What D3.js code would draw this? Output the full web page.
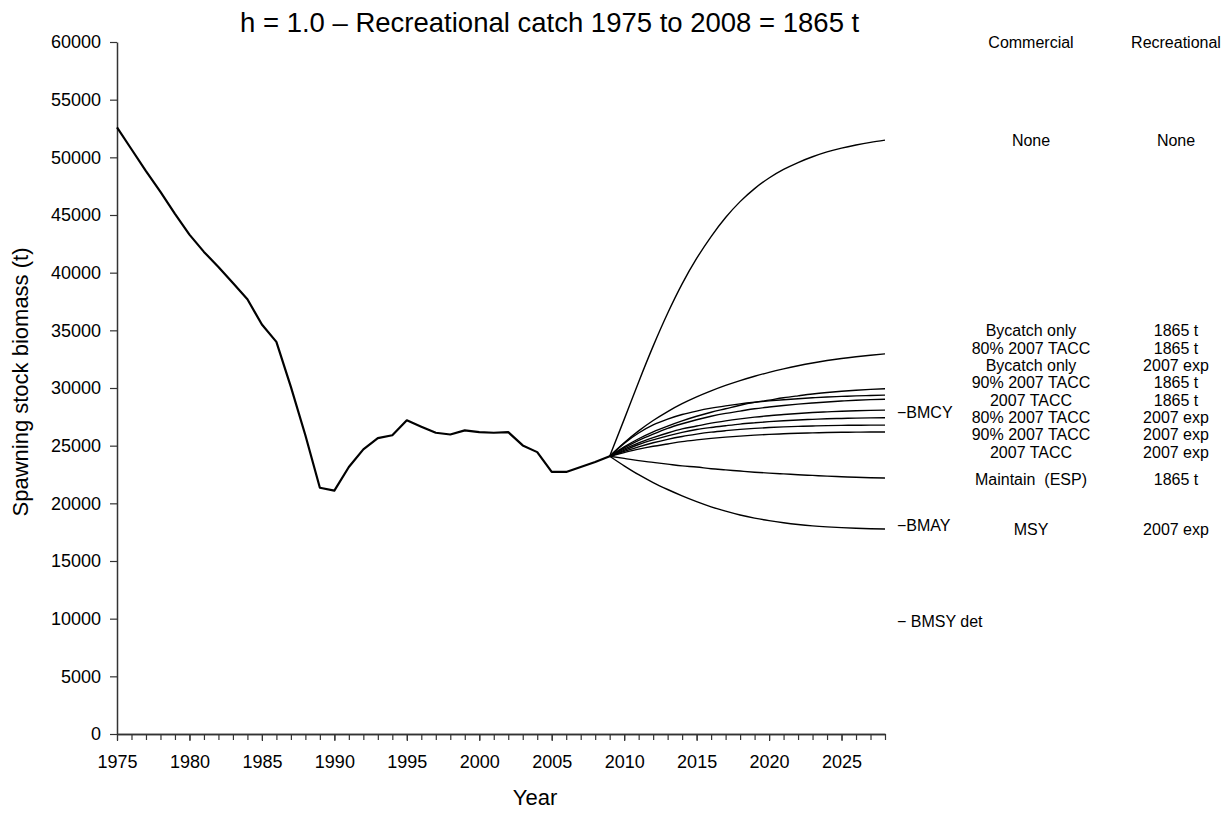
<!DOCTYPE html>
<html>
<head>
<meta charset="utf-8">
<script src="https://cdn.jsdelivr.net/npm/d3@7/dist/d3.min.js"></script>
<style>
  body { margin: 0; background: #fff; }
  svg { display: block; font-family: "Liberation Sans", Arial, sans-serif; }
</style>
</head>
<body>
<svg id="chart" width="1229" height="814"></svg>
<script>
// --- dati: biomassa storica 1975-2009 ---
const histYears = d3.range(1975, 2010);
const histSSB = [
  52600, 50700, 48800, 47000, 45100, 43300, 41800, 40500, 39100, 37700,
  35500, 34000, 30100, 25900, 21350, 21100, 23150, 24680, 25650, 25900,
  27200, 26650, 26120, 25970, 26330, 26170, 26120, 26170, 25020, 24440,
  22720, 22720, 23150, 23580, 24080
];

// --- proiezioni 2009-2028 ---
const projYears = d3.range(2009, 2029);
const projNone   = [24080, 27280, 30530, 33630, 36480, 39030, 41230, 43130, 44780, 46160, 47290, 48210, 48950, 49550, 50050, 50470, 50800, 51070, 51300, 51490];
const projBy1865 = [24080, 25250, 26280, 27180, 27960, 28640, 29230, 29750, 30220, 30640, 31020, 31360, 31660, 31930, 32170, 32380, 32560, 32710, 32840, 32960];
const proj80_1865 = [24080, 24900, 25600, 26200, 26700, 27150, 27550, 27900, 28200, 28500, 28750, 28950, 29150, 29320, 29480, 29610, 29720, 29810, 29880, 29930];
const projByExp  = [24080, 25200, 26100, 26800, 27300, 27700, 28000, 28250, 28450, 28620, 28760, 28880, 28980, 29070, 29150, 29220, 29270, 29320, 29350, 29380];
const proj90_1865 = [24080, 24800, 25450, 26000, 26500, 26900, 27250, 27550, 27800, 28000, 28200, 28350, 28480, 28600, 28700, 28790, 28870, 28940, 28990, 29030];
const projT_1865 = [24080, 24700, 25250, 25700, 26100, 26450, 26700, 26950, 27150, 27320, 27470, 27600, 27700, 27790, 27870, 27930, 27990, 28030, 28060, 28080];
const proj80_exp = [24080, 24600, 25100, 25500, 25850, 26150, 26400, 26580, 26730, 26870, 26980, 27080, 27160, 27230, 27280, 27330, 27360, 27390, 27410, 27420];
const proj90_exp = [24080, 24500, 24900, 25250, 25550, 25800, 26000, 26170, 26300, 26410, 26500, 26570, 26630, 26670, 26710, 26740, 26760, 26770, 26780, 26780];
const projT_exp  = [24080, 24400, 24700, 24950, 25150, 25350, 25500, 25630, 25740, 25830, 25910, 25980, 26030, 26080, 26110, 26140, 26160, 26170, 26180, 26180];
const projMaint  = [24080, 23900, 23700, 23550, 23400, 23250, 23150, 23000, 22900, 22800, 22700, 22620, 22550, 22480, 22420, 22360, 22310, 22260, 22220, 22190];
const projMSY    = [24080, 23250, 22480, 21800, 21200, 20650, 20150, 19700, 19320, 18990, 18720, 18500, 18320, 18170, 18050, 17960, 17890, 17840, 17800, 17780];

const projections = [projNone, projBy1865, proj80_1865, projByExp, proj90_1865,
  projT_1865, proj80_exp, proj90_exp, projT_exp, projMaint, projMSY];

// --- etichette scenari ---
const commercialLabels = ["None", "Bycatch only", "80% 2007 TACC", "Bycatch only",
  "90% 2007 TACC", "2007 TACC", "80% 2007 TACC", "90% 2007 TACC", "2007 TACC",
  "Maintain  (ESP)", "MSY"];
const recreationalLabels = ["None", "1865 t", "1865 t", "2007 exp", "1865 t",
  "1865 t", "2007 exp", "2007 exp", "2007 exp", "1865 t", "2007 exp"];

// --- punti di riferimento ---
const refNames  = ["BMCY", "BMAY", "BMSY det"];
const refValues = [27800, 18000, 9600];

const yTicks = d3.range(0, 60001, 5000);
const xTicks = d3.range(1975, 2026, 5);

/* ── layout ─────────────────────────────── */
const M = { left: 117, right: 885, top: 42, bottom: 734 };
const labelRowY = [146, 336, 353.5, 371, 388, 405.5, 423, 440, 457.5, 485, 535];
const colCom = 1031, colRec = 1176;

const svg = d3.select("#chart");
const x = d3.scaleLinear().domain([1975, 2028]).range([M.left, M.right]);
const y = d3.scaleLinear().domain([0, 60000]).range([M.bottom, M.top]);
const ink = "#000";
const axisInk = "#333";

/* ── assi ───────────────────────────────── */
svg.append("g")
  .attr("transform", `translate(${M.left},0)`)
  .call(d3.axisLeft(y).tickValues(yTicks).tickFormat(d3.format("d"))
    .tickSize(7).tickPadding(9).tickSizeOuter(0));

svg.append("g")
  .attr("transform", `translate(0,${M.bottom})`)
  .call(d3.axisBottom(x).tickValues(xTicks).tickFormat(d3.format("d"))
    .tickSize(7).tickPadding(14).tickSizeOuter(0));

// tacche minori annuali
svg.append("g")
  .attr("transform", `translate(0,${M.bottom})`)
  .call(d3.axisBottom(x).tickValues(d3.range(1975, 2029)).tickFormat("")
    .tickSize(6).tickSizeOuter(0));

svg.selectAll(".domain").attr("stroke", axisInk).attr("stroke-width", 1.5);
svg.selectAll(".tick line").attr("stroke", axisInk).attr("stroke-width", 1.2);
svg.selectAll(".tick text")
  .attr("fill", "#000")
  .attr("font-size", 18)
  .attr("font-family", "Liberation Sans, Arial, sans-serif");

/* ── linee ──────────────────────────────── */
const line = d3.line().x(d => x(d[0])).y(d => y(d[1]));
const smooth = d3.line().curve(d3.curveMonotoneX).x(d => x(d[0])).y(d => y(d[1]));

projections.forEach(vals => {
  svg.append("path")
    .datum(projYears.map((yr, i) => [yr, vals[i]]))
    .attr("fill", "none")
    .attr("stroke", ink)
    .attr("stroke-width", 1.4)
    .attr("d", smooth);
});

svg.append("path")
  .datum(histYears.map((yr, i) => [yr, histSSB[i]]))
  .attr("fill", "none")
  .attr("stroke", ink)
  .attr("stroke-width", 2.2)
  .attr("stroke-linejoin", "round")
  .attr("d", line);

/* ── testi ──────────────────────────────── */
svg.append("text")
  .attr("x", 240).attr("y", 32)
  .attr("font-size", 27.5)
  .text("h = 1.0 \u2013 Recreational catch 1975 to 2008 = 1865 t");

svg.append("text")
  .attr("transform", `translate(28,382) rotate(-90)`)
  .attr("text-anchor", "middle")
  .attr("font-size", 22)
  .text("Spawning stock biomass (t)");

svg.append("text")
  .attr("x", (M.left + M.right) / 2 + 34).attr("y", 805)
  .attr("text-anchor", "middle")
  .attr("font-size", 22)
  .text("Year");

svg.append("text").attr("x", colCom).attr("y", 48)
  .attr("text-anchor", "middle").attr("font-size", 16).text("Commercial");
svg.append("text").attr("x", colRec).attr("y", 48)
  .attr("text-anchor", "middle").attr("font-size", 16).text("Recreational");

commercialLabels.forEach((t, i) => {
  svg.append("text").attr("x", colCom).attr("y", labelRowY[i])
    .attr("text-anchor", "middle").attr("font-size", 16).text(t)
    .style("white-space", "pre");
  svg.append("text").attr("x", colRec).attr("y", labelRowY[i])
    .attr("text-anchor", "middle").attr("font-size", 16).text(recreationalLabels[i]);
});

refNames.forEach((n, i) => {
  svg.append("text")
    .attr("x", 897).attr("y", y(refValues[i]))
    .attr("dominant-baseline", "middle")
    .attr("font-size", 16)
    .text("\u2212" + (n === "BMSY det" ? " " : "") + n);
});
</script>
</body>
</html>
